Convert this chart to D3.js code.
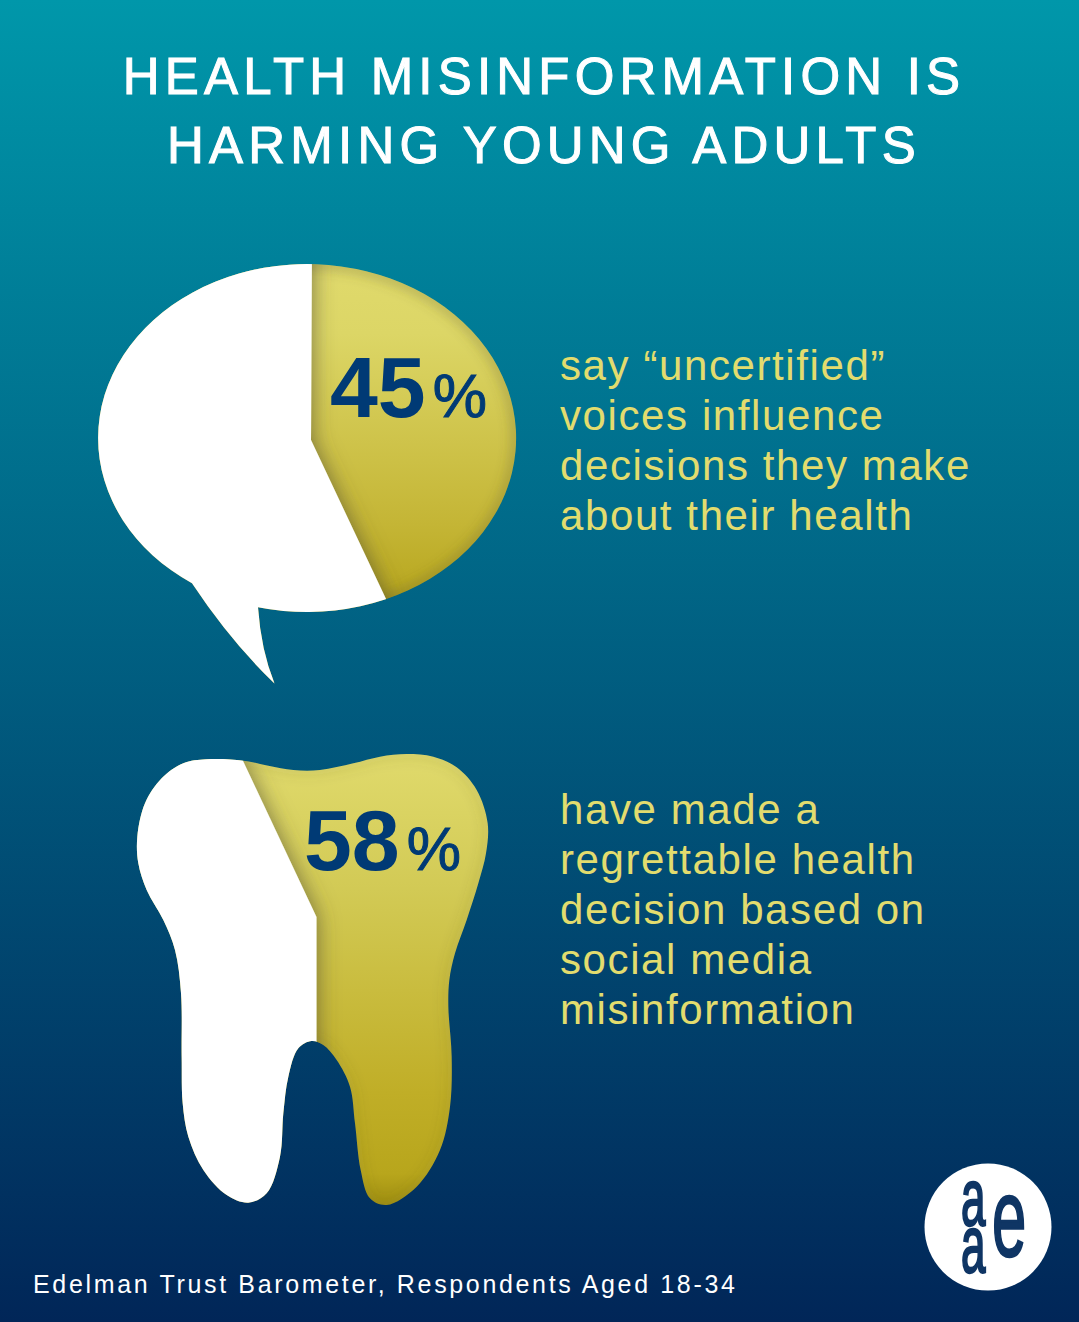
<!DOCTYPE html>
<html>
<head>
<meta charset="utf-8">
<style>
  html, body { margin: 0; padding: 0; background: #012658; }
  svg { display: block; }
  text { font-family: "Liberation Sans", Arial, sans-serif; }
</style>
<script src="https://cdn.jsdelivr.net/npm/d3@7"></script>
</head>
<body>
<div id="chart"></div>
<script>
// --- Data ---
const titleLines = ['HEALTH MISINFORMATION IS', 'HARMING YOUNG ADULTS'];
const shareValues = [45, 58];
const shareNotes = [
  ['say “uncertified”', 'voices influence', 'decisions they make', 'about their health'],
  ['have made a', 'regrettable health', 'decision based on', 'social media', 'misinformation']
];
const sourceNote = 'Edelman Trust Barometer, Respondents Aged 18-34';
const logoLetters = ['a', 'a', 'e'];

// Tooth silhouette, in units of a 390 x 480 crop
const toothOutline = [
  [370,62],[445,77],[520,90],[600,90],[700,70],[780,50],[860,42],[940,50],[1010,82],[1070,150],[1103,250],[1098,340],[1075,430],[1040,540],
  [1005,640],[988,720],[985,800],[995,950],[990,1100],[960,1230],[890,1340],[800,1395],[750,1375],[722,1290],
  [705,1150],[690,1040],[650,960],[610,915],[575,903],[535,925],[505,1010],[490,1120],[480,1250],
  [440,1360],[385,1388],[320,1365],[250,1290],[205,1190],[188,1090],[185,950],[183,760],[165,630],
  [130,540],[80,450],[55,370],[52,290],[75,190],[125,115],[190,70],[260,58]
];

const width = 1079;
const height = 1322;

const svg = d3.select('#chart').append('svg')
  .attr('width', width)
  .attr('height', height)
  .attr('viewBox', `0 0 ${width} ${height}`);

const defs = svg.append('defs');

function addGradient(id, y1, y2, stops) {
  const g = defs.append('linearGradient')
    .attr('id', id)
    .attr('gradientUnits', 'userSpaceOnUse')
    .attr('x1', 0).attr('x2', 0).attr('y1', y1).attr('y2', y2);
  stops.forEach(s => g.append('stop').attr('offset', s[0]).attr('stop-color', s[1]));
}

addGradient('bg', 0, height, [[0, '#0097aa'], [1, '#012658']]);
addGradient('goldBubble', 264, 612, [[0, '#e0da6c'], [0.2, '#dcd666'], [0.75, '#c4b535'], [1, '#b5a41a']]);
addGradient('goldTooth', 754, 1205, [[0, '#e0da6c'], [0.3, '#d2ca55'], [0.75, '#c0ae27'], [0.93, '#b8a61c'], [1, '#a08f10']]);

// Shadow the white piece throws on the gold
const shadow = defs.append('filter').attr('id', 'pieceShadow')
  .attr('x', '-20%').attr('y', '-20%').attr('width', '140%').attr('height', '140%');
shadow.append('feDropShadow')
  .attr('dx', 0).attr('dy', 0).attr('stdDeviation', 11)
  .attr('flood-color', '#4d4a30').attr('flood-opacity', 0.7);

const rimBlur = defs.append('filter').attr('id', 'rimBlur')
  .attr('x', '-20%').attr('y', '-20%').attr('width', '140%').attr('height', '140%');
rimBlur.append('feGaussianBlur').attr('stdDeviation', 6);

svg.append('rect').attr('width', width).attr('height', height).attr('fill', 'url(#bg)');

// --- Title ---
svg.append('g').selectAll('text')
  .data(titleLines)
  .join('text')
  .attr('x', 544)
  .attr('y', (d, i) => 94 + i * 69)
  .attr('text-anchor', 'middle')
  .attr('font-size', 51)
  .attr('letter-spacing', 5.2)
  .attr('fill', '#ffffff')
  .attr('stroke', '#ffffff')
  .attr('stroke-width', 1)
  .text(d => d);

// --- Silhouettes ---
const bubblePath = 'M192 583.3 A209 174 0 1 1 258 607.2 Q261 650 274.5 683.5 Q231 642 192 583.3 Z';

const toothX = d3.scaleLinear().domain([0, 1170]).range([120, 510]);
const toothY = d3.scaleLinear().domain([0, 1440]).range([740, 1220]);
const toothPath = d3.line()
  .x(d => toothX(d[0]))
  .y(d => toothY(d[1]))
  .curve(d3.curveCatmullRomClosed.alpha(0.5))(toothOutline);

const shapes = [
  {
    id: 'bubble', path: bubblePath, fill: 'url(#goldBubble)',
    piece: 'M312 240 L311 440 L386.5 600 L386.5 720 L60 720 L60 240 Z', rim: 0.3
  },
  {
    id: 'tooth', path: toothPath, fill: 'url(#goldTooth)',
    piece: 'M235.5 745 L316.5 917 L316.5 1260 L100 1260 L100 745 Z', rim: 0.12
  }
];

shapes.forEach(s => {
  defs.append('clipPath').attr('id', `clip-${s.id}`).append('path').attr('d', s.path);
  const g = svg.append('g').attr('clip-path', `url(#clip-${s.id})`);
  g.append('rect').attr('width', width).attr('height', height).attr('fill', s.fill);
  g.append('path')
    .attr('d', s.path)
    .attr('fill', 'none')
    .attr('stroke', '#5c5530')
    .attr('stroke-width', 10)
    .attr('stroke-opacity', s.rim)
    .attr('filter', 'url(#rimBlur)');
  g.append('path')
    .attr('d', s.piece)
    .attr('fill', '#ffffff')
    .attr('filter', 'url(#pieceShadow)');
});

// --- Big percentages ---
const shareLabels = svg.append('g').selectAll('text')
  .data(shareValues)
  .join('text')
  .attr('x', (d, i) => [330, 304][i])
  .attr('y', (d, i) => [417, 870][i])
  .attr('fill', '#003a75');

shareLabels.append('tspan')
  .attr('font-size', 86)
  .attr('font-weight', 700)
  .text(d => d);

shareLabels.append('tspan')
  .attr('dx', 7)
  .attr('font-size', 61)
  .attr('stroke', '#003a75')
  .attr('stroke-width', 1)
  .text('%');

// --- Notes ---
shareNotes.forEach((lines, n) => {
  svg.append('g').selectAll('text')
    .data(lines)
    .join('text')
    .attr('x', 560)
    .attr('y', (d, i) => [380, 824][n] + i * 50)
    .attr('font-size', 42)
    .attr('letter-spacing', 1.6)
    .attr('fill', '#e2dc6e')
    .text(d => d);
});

// --- Source ---
svg.append('text')
  .attr('x', 33)
  .attr('y', 1293)
  .attr('font-size', 25)
  .attr('letter-spacing', 2.66)
  .attr('fill', '#ffffff')
  .text(sourceNote);

// --- Logo ---
const logo = svg.append('g');
logo.append('circle').attr('cx', 988).attr('cy', 1227).attr('r', 63.5).attr('fill', '#ffffff');

// One text element, squeezed sideways, with each letter placed by a tspan
const logoSqueeze = 0.55;
const logoPos = [
  { x: 961, y: 1225, size: 80 },
  { x: 961, y: 1272, size: 80 },
  { x: 992, y: 1256, size: 112 }
];
logo.append('text')
  .attr('transform', `scale(${logoSqueeze},1)`)
  .attr('stroke', '#0f3564')
  .attr('stroke-width', 2.4)
  .attr('fill', '#0f3564')
  .selectAll('tspan')
  .data(logoLetters)
  .join('tspan')
  .attr('x', (d, i) => logoPos[i].x / logoSqueeze)
  .attr('y', (d, i) => logoPos[i].y)
  .attr('font-size', (d, i) => logoPos[i].size)
  .text(d => d);
</script>
</body>
</html>
